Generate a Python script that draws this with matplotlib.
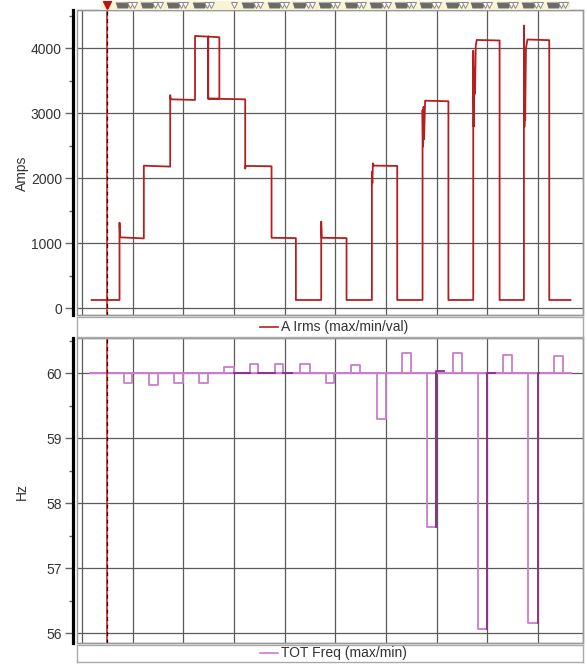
import matplotlib
matplotlib.use('Agg')
import matplotlib.pyplot as plt
from matplotlib.patches import Rectangle
from matplotlib.lines import Line2D
from matplotlib.ticker import MultipleLocator

plt.rcParams['font.family'] = ['Liberation Sans', 'DejaVu Sans']

# ---------------- data (x in grid divisions) ----------------
amp_t = [0.19, 0.74, 0.74, 0.75, 1.22, 1.22, 1.74, 1.74, 1.75, 2.23, 2.23, 2.71, 2.71, 2.49,
         2.49, 2.49, 3.22, 3.22, 3.23, 3.74, 3.74, 4.22, 4.22, 4.72, 4.72, 4.73, 5.22, 5.22,
         5.72, 5.72, 5.73, 5.74, 5.76, 6.22, 6.22, 6.72, 6.72, 6.73, 6.74, 6.75, 6.77, 7.23,
         7.23, 7.72, 7.72, 7.73, 7.745, 7.755, 7.77, 7.79, 8.24, 8.24, 8.72, 8.72, 8.73,
         8.735, 8.745, 8.76, 8.79, 9.22, 9.22, 9.64]
amp_v = [128, 128, 1317, 1092, 1075, 2194, 2180, 3280, 3215, 3205, 4190, 4170, 3225, 3225,
         4180, 3225, 3215, 2150, 2190, 2185, 1085, 1080, 128, 128, 1333, 1085, 1080, 128,
         128, 2100, 1923, 2230, 2195, 2190, 128, 128, 3050, 2490, 3100, 2600, 3194, 3185,
         128, 128, 3963, 2794, 3700, 3300, 4050, 4128, 4120, 128, 128, 4350, 2794,
         3550, 2900, 4000, 4135, 4125, 128, 128]

freq_span = [0.16, 9.64]
freq_base = 60.0
ev_start = [0.82, 1.32, 1.82, 2.31, 2.81, 3.32, 3.81, 4.30, 4.82, 5.31, 5.82, 6.32, 6.81,
            7.32, 7.82, 8.31, 8.81, 9.31]
ev_end = [0.99, 1.49, 1.99, 2.49, 2.99, 3.48, 3.96, 4.49, 4.98, 5.48, 5.99, 6.49, 6.99,
          7.49, 7.99, 8.49, 8.99, 9.49]
freq_max = [60, 60, 60, 60, 60.09, 60.14, 60.15, 60.14, 60, 60.13, 60, 60.31, 60,
            60.31, 60, 60.28, 60, 60.27]
freq_min = [59.85, 59.82, 59.85, 59.85, 60, 60, 60, 60, 59.85, 60, 59.29, 60, 57.64,
            60, 56.07, 60, 56.16, 60]

dark_start = [2.99, 3.48, 3.96, 6.99, 7.99, 8.99]
dark_end = [3.32, 3.81, 4.14, 7.15, 8.14, 9.01]
dark_from = [60.0, 60.0, 60.0, 57.64, 56.07, 56.16]
dark_level = [60.0, 60.0, 60.0, 60.03, 60.01, 60.0]

cursor_t = 0.50
event_marks = [0.66, 1.16, 1.66, 2.17, 3.15, 3.66, 4.16, 4.66, 5.17, 5.67, 6.17, 6.66,
               7.18, 7.67, 8.18, 8.67, 9.17]
lone_marks = [3.00]

amp_ticks = [0, 1000, 2000, 3000, 4000]
hz_ticks = [56, 57, 58, 59, 60]

# ---------------- layout ----------------
W, H = 587, 665
fig = plt.figure(figsize=(W / 100, H / 100), dpi=100)


def px_axes(x0, y0, x1, y1):
    return fig.add_axes([x0 / W, 1 - y1 / H, (x1 - x0) / W, (y1 - y0) / H])


XL = (-0.093, 9.88)
red = '#b42020'
purple = '#cc7dcc'
dpurple = '#8a2a8a'
gridc = '#5a5a5a'
txtc = '#333333'


def style_axes(ax, ylim, major, minor, ticks):
    ax.set_xlim(*XL)
    ax.set_ylim(*ylim)
    ax.set_xticks(range(0, 10))
    ax.tick_params(axis='x', length=0, labelbottom=False)
    ax.set_yticks(ticks)
    ax.yaxis.set_minor_locator(MultipleLocator(minor))
    ax.tick_params(axis='y', which='major', direction='out', length=6, width=1,
                   color='#666666', labelsize=10, labelcolor=txtc, pad=2)
    ax.tick_params(axis='y', which='minor', direction='out', length=3, width=1,
                   color='#666666')
    ax.grid(True, which='major', color=gridc, lw=0.9)
    for s in ['top', 'right', 'bottom']:
        ax.spines[s].set_color('#999999')
        ax.spines[s].set_linewidth(1)
    ax.spines['left'].set_position(('outward', 3.1))
    ax.spines['left'].set_linewidth(2.3)
    ax.spines['left'].set_color('black')
    ax.add_patch(Rectangle((0, 0), 1, 1, transform=ax.transAxes, fill=False,
                           edgecolor='#999999', lw=1, clip_on=False, zorder=5))
    ax.axvline(cursor_t, color='#e02020', lw=1.2, zorder=4)
    ax.axvline(cursor_t, color='black', lw=0.9, ls=(0, (3, 3)), zorder=4)


# top panel
ax1 = px_axes(77.3, 10, 582.7, 315)
style_axes(ax1, (-103, 4589), 1000, 500, amp_ticks)
ax1.plot(amp_t, amp_v, color=red, lw=1.3, zorder=3)

# bottom panel
ax2 = px_axes(77.3, 338.3, 582.7, 643.3)
style_axes(ax2, (55.846, 60.538), 1, 0.5, hz_ticks)


def step_path(vals):
    xs, ys = [freq_span[0]], [freq_base]
    for s, e, v in zip(ev_start, ev_end, vals):
        xs += [s, s, e, e]
        ys += [freq_base, v, v, freq_base]
    xs.append(freq_span[1])
    ys.append(freq_base)
    return xs, ys


mx, my = step_path(freq_min)
ax2.plot(mx, my, color=purple, lw=1.3, zorder=3)
xx, xy = step_path(freq_max)
ax2.plot(xx, xy, color=purple, lw=1.3, zorder=3)
for s, e, f, l in zip(dark_start, dark_end, dark_from, dark_level):
    ax2.plot([s, s, e], [f, l, l], color=dpurple, lw=1.3, zorder=3.5)

# labels
fig.text(22 / W, 1 - 173 / H, 'Amps', rotation=90, ha='center', va='center',
         fontsize=10, color=txtc)
fig.text(22 / W, 1 - 492 / H, 'Hz', rotation=90, ha='center', va='center',
         fontsize=10, color=txtc)

# legend strips
for (y0, y1, label, col) in [(316.7, 336.7, 'A Irms (max/min/val)', red),
                             (644.5, 662.3, 'TOT Freq (max/min)', purple)]:
    lax = px_axes(77.3, y0, 582.7, y1)
    lax.set_xticks([])
    lax.set_yticks([])
    for s in lax.spines.values():
        s.set_color('#aaaaaa')
        s.set_linewidth(1)
    yc = 1 - ((y0 + y1) / 2) / H
    fig.add_artist(Line2D([260 / W, 278 / W], [yc, yc], color=col, lw=1.2))
    fig.text(281 / W, yc, label, ha='left', va='center', fontsize=10, color=txtc)

# marker strip
sax = px_axes(77.3, 0.5, 582.7, 9.5)
sax.set_xlim(*XL)
sax.set_ylim(0, 1)
sax.axis('off')
sax.add_patch(Rectangle((0.38, 0), 9.62 - 0.38, 1, color='#f8f4d4', lw=0))
sax.plot([cursor_t], [0.55], marker='v', color='#c01010', ms=6, ls='none')
tag = [(-1.3, 0.45), (1.3, 0.45), (1.0, -0.45), (-1.0, -0.45)]
sax.plot([m + 0.13 for m in event_marks], [0.55] * len(event_marks), marker=tag,
         color='#6a6a6a', ms=9.5, ls='none')
for off in (0.29, 0.37):
    sax.plot([m + off for m in event_marks], [0.55] * len(event_marks), marker='v',
             mfc='white', mec='#888888', mew=0.7, ms=4, ls='none')
sax.plot(lone_marks, [0.55] * len(lone_marks), marker='v', mfc='white', mec='#888888',
         mew=0.7, ms=4, ls='none')

fig.savefig('out.png', dpi=100)
